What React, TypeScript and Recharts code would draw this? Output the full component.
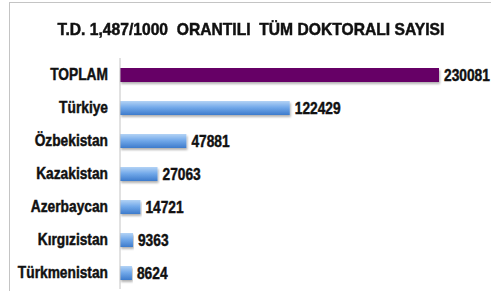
import { BarChart, Bar, XAxis, YAxis, Cell, LabelList } from 'recharts';

const countries = ['TOPLAM', 'Türkiye', 'Özbekistan', 'Kazakistan', 'Azerbaycan', 'Kırgızistan', 'Türkmenistan'];
const doctorates = [230081, 122429, 47881, 27063, 14721, 9363, 8624];

const FONT = '"Liberation Sans", Arial, sans-serif';
const SQUEEZE = 0.86;

const data = countries.map((name, i) => ({ name, value: doctorates[i] }));

// condensed heavy text, since no narrow font is available
function NarrowText({ x, y, anchor, children }: any) {
  return (
    <text
      x={x}
      y={y}
      dy="0.36em"
      textAnchor={anchor}
      fill="#111"
      stroke="#111"
      strokeWidth={0.45}
      fontSize={16}
      fontWeight="bold"
      fontFamily={FONT}
      transform={`translate(${x},0) scale(${SQUEEZE},1) translate(${-x},0)`}
    >
      {children}
    </text>
  );
}

function CountryTick({ x, y, payload }: any) {
  return (
    <NarrowText x={x} y={y} anchor="end">
      {payload.value}
    </NarrowText>
  );
}

function ValueLabel({ x, y, width, height, value }: any) {
  const lx = x + width + 5;
  return (
    <NarrowText x={lx} y={y + height / 2} anchor="start">
      {value}
    </NarrowText>
  );
}

export default function App() {
  return (
    <div
      style={{
        position: 'absolute',
        left: 0,
        top: 0,
        width: 491,
        height: 291,
        background: '#fff',
        overflow: 'hidden',
        fontFamily: FONT,
      }}
    >
      {/* frame lines */}
      <div
        style={{
          position: 'absolute',
          left: 9,
          top: 2,
          width: 490,
          height: 300,
          borderLeft: '1px solid #c4c4c4',
          borderTop: '1px solid #c4c4c4',
        }}
      />
      <div
        style={{
          position: 'absolute',
          left: 0,
          width: 502,
          top: 20,
          textAlign: 'center',
          fontWeight: 'bold',
          fontSize: 17,
          lineHeight: '20px',
          color: '#111',
          whiteSpace: 'nowrap',
          transform: 'scaleX(0.92)',
          WebkitTextStroke: '0.5px #111',
        }}
      >
        T.D. 1,487/1000&nbsp;&nbsp;ORANTILI&nbsp;&nbsp;TÜM DOKTORALI SAYISI
      </div>
      <div style={{ position: 'absolute', left: 0, top: 0 }}>
        <BarChart
          width={491}
          height={291}
          data={data}
          layout="vertical"
          margin={{ top: 58, right: 52, bottom: 2, left: 0 }}
        >
          <defs>
            <linearGradient id="blueBar" x1="0" y1="0" x2="0" y2="1">
              <stop offset="0%" stopColor="#b3d3f5" />
              <stop offset="45%" stopColor="#74aaea" />
              <stop offset="100%" stopColor="#3d7bcc" />
            </linearGradient>
            <filter id="barShadow" x="-5%" y="-20%" width="110%" height="160%">
              <feDropShadow dx="1" dy="2" stdDeviation="1" floodColor="#000" floodOpacity="0.3" />
            </filter>
          </defs>
          <XAxis type="number" hide domain={[0, 'dataMax']} />
          <YAxis
            type="category"
            dataKey="name"
            width={120}
            tickLine={false}
            tickSize={0}
            tickMargin={12}
            axisLine={{ stroke: '#c4c4c4' }}
            tick={<CountryTick />}
          />
          <Bar dataKey="value" barSize={14} isAnimationActive={false} filter="url(#barShadow)">
            {data.map((d, i) => (
              <Cell key={d.name} fill={i === 0 ? '#660066' : 'url(#blueBar)'} />
            ))}
            <LabelList dataKey="value" content={<ValueLabel />} />
          </Bar>
        </BarChart>
      </div>
    </div>
  );
}
